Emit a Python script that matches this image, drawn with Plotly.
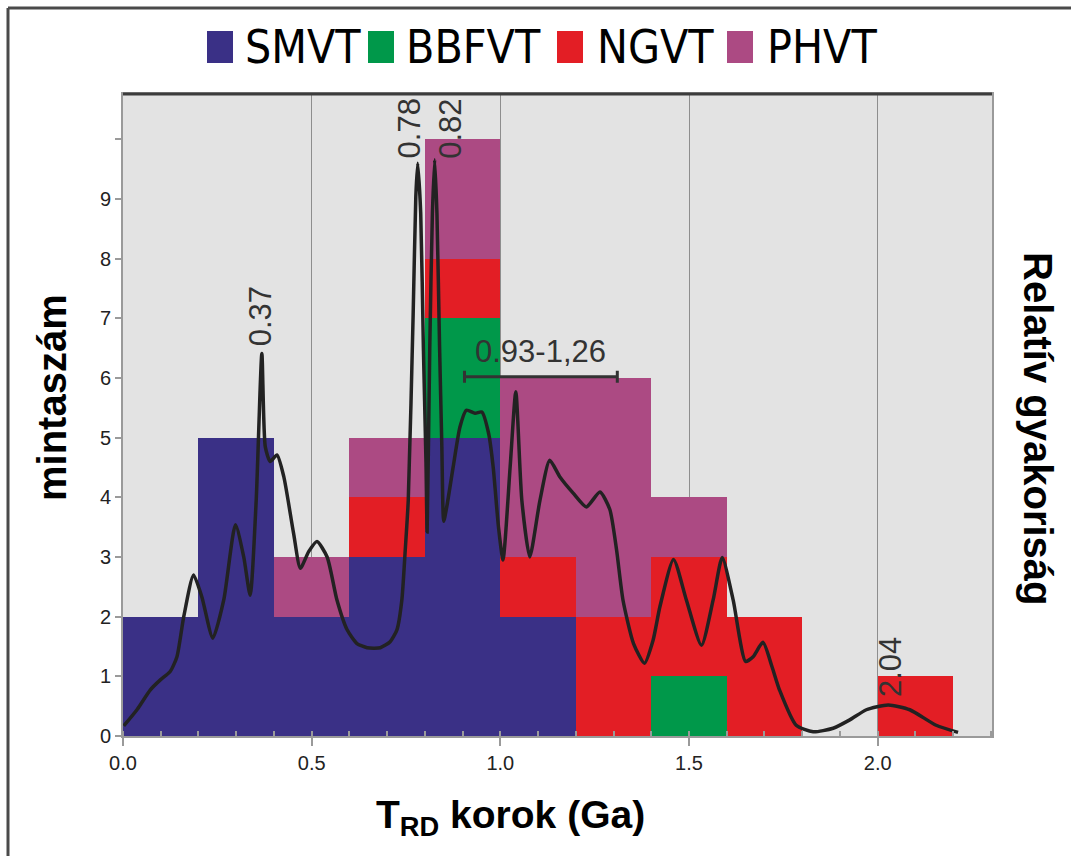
import plotly.graph_objects as go

# ---------------- data ----------------
bin_start = [0.0, 0.2, 0.4, 0.6, 0.8, 1.0, 1.2, 1.4, 1.6, 1.8, 2.0]
bin_width = 0.2
series_names = ["SMVT", "BBFVT", "NGVT", "PHVT"]
smvt = [2, 5, 2, 3, 5, 2, 0, 0, 0, 0, 0]
bbfvt = [0, 0, 0, 0, 2, 0, 0, 1, 0, 0, 0]
ngvt = [0, 0, 0, 1, 1, 1, 2, 2, 2, 0, 1]
phvt = [0, 0, 1, 1, 2, 3, 4, 1, 0, 0, 0]
series_colors = ["#3a3086", "#00984a", "#e31e25", "#ac4a83"]

# density curve (in y-axis units)
kde_x = [0.002, 0.037, 0.072, 0.099, 0.125, 0.143, 0.161, 0.187, 0.209, 0.238,
         0.267, 0.298, 0.320, 0.337, 0.353, 0.368, 0.377, 0.390, 0.408, 0.426,
         0.452, 0.470, 0.492, 0.514, 0.541, 0.567, 0.594, 0.620, 0.647, 0.682,
         0.708, 0.726, 0.739, 0.748, 0.756, 0.769, 0.776, 0.781, 0.789, 0.796,
         0.803, 0.806, 0.813, 0.820, 0.826, 0.832, 0.839, 0.845, 0.850, 0.858,
         0.875, 0.893, 0.910, 0.933, 0.951, 0.969, 0.981, 0.995, 1.007, 1.026,
         1.041, 1.057, 1.078, 1.105, 1.131, 1.158, 1.193, 1.228, 1.264, 1.290,
         1.308, 1.325, 1.353, 1.382, 1.405, 1.423, 1.459, 1.493, 1.533, 1.564,
         1.588, 1.617, 1.650, 1.670, 1.696, 1.720, 1.740, 1.784, 1.829, 1.882,
         1.926, 1.970, 2.028, 2.085, 2.155, 2.213]
kde_y = [0.17, 0.44, 0.77, 0.94, 1.08, 1.33, 2.00, 2.70, 2.33, 1.64,
         2.28, 3.54, 3.00, 2.36, 3.95, 6.41, 4.85, 4.60, 4.71, 4.35,
         3.40, 2.81, 3.09, 3.26, 3.00, 2.28, 1.78, 1.55, 1.48, 1.48,
         1.58, 1.78, 2.28, 3.12, 3.95, 7.08, 9.04, 9.60, 8.76, 6.52,
         4.57, 3.42, 6.52, 8.76, 9.66, 8.76, 6.52, 4.85, 3.60, 3.84,
         4.51, 5.18, 5.46, 5.41, 5.43, 5.07, 4.51, 3.51, 2.95, 4.51,
         5.77, 3.95, 3.00, 3.95, 4.62, 4.34, 4.07, 3.84, 4.09, 3.80,
         3.12, 2.28, 1.55, 1.22, 1.61, 2.17, 2.96, 2.28, 1.52, 2.28,
         2.99, 2.28, 1.25, 1.33, 1.57, 1.16, 0.77, 0.18, 0.07, 0.13,
         0.27, 0.44, 0.52, 0.44, 0.18, 0.06]

peak_labels = ["0.37", "0.78", "0.82", "2.04"]
peak_label_x = [0.365, 0.760, 0.867, 2.036]
peak_label_y = [7.03, 10.18, 10.18, 1.16]

range_label = "0.93-1,26"
range_ends = [0.905, 1.31]
range_level = 6.02

y_tick_vals = [0, 1, 2, 3, 4, 5, 6, 7, 8, 9]
y_tick_text = ["0", "1", "2", "3", "4", "5", "6", "7", "8", "9"]
x_tick_vals = [0.0, 0.5, 1.0, 1.5, 2.0]
x_tick_text = ["0.0", "0.5", "1.0", "1.5", "2.0"]

# ---------------- layout geometry (pixels) ----------------
W, H = 1071, 856
L, R, T, B = 123, 992, 94, 736


def px_x(p):
    return (p - L) / (R - L)


def px_y(p):
    return (B - p) / (B - T)


fig = go.Figure()

for name, vals, col in zip(series_names, [smvt, bbfvt, ngvt, phvt], series_colors):
    fig.add_trace(go.Bar(
        x=bin_start, y=vals, width=bin_width, offset=0, name=name,
        marker=dict(color=col, line=dict(width=0)), showlegend=False,
        hoverinfo="name+y"))

fig.add_trace(go.Scatter(
    x=kde_x, y=kde_y, mode="lines",
    line=dict(color="#222222", width=3.5, shape="spline", smoothing=0.6),
    showlegend=False, hoverinfo="skip"))

# range bar with caps
center = (range_ends[0] + range_ends[1]) / 2
half = (range_ends[1] - range_ends[0]) / 2
fig.add_trace(go.Scatter(
    x=[center], y=[range_level], mode="markers",
    marker=dict(size=1, color="rgba(0,0,0,0)"),
    error_x=dict(type="data", array=[half], thickness=3, width=6, color="#333333"),
    showlegend=False, hoverinfo="skip"))

annotations = []
for txt, ax_, ay_ in zip(peak_labels, peak_label_x, peak_label_y):
    annotations.append(dict(x=ax_, y=ay_, xref="x", yref="y", text=txt, textangle=-90,
                            showarrow=False, xanchor="center", yanchor="middle",
                            font=dict(family="Liberation Sans, Arial", size=31, color="#333333")))
annotations.append(dict(x=center, y=6.44, xref="x", yref="y", text=range_label,
                        showarrow=False, xanchor="center", yanchor="middle",
                        font=dict(family="Liberation Sans, Arial", size=31, color="#333333")))

# axis titles
title_font = dict(family="Liberation Sans, Arial", size=40, color="#000000")
annotations.append(dict(x=px_x(52), y=px_y(398), xref="paper", yref="paper",
                        text="<b>mintaszám</b>", textangle=-90, showarrow=False,
                        xanchor="center", yanchor="middle", font=title_font))
annotations.append(dict(x=px_x(1038), y=px_y(429), xref="paper", yref="paper",
                        text="<b>Relatív gyakoriság</b>", textangle=90, showarrow=False,
                        xanchor="center", yanchor="middle", font=title_font))
annotations.append(dict(x=px_x(510), y=px_y(818), xref="paper", yref="paper",
                        text="<b>T<sub>RD</sub> korok (Ga)</b>", showarrow=False,
                        xanchor="center", yanchor="middle",
                        font=dict(family="Liberation Sans, Arial", size=39, color="#000000")))

# custom legend
leg_sq_x = [207, 368, 557, 727]
leg_txt_x = [243, 404, 595, 765]
leg_y = 47
shapes = []
for name, col, sx, tx in zip(series_names, series_colors, leg_sq_x, leg_txt_x):
    shapes.append(dict(type="rect", xref="paper", yref="paper",
                       x0=px_x(sx), x1=px_x(sx + 26), y0=px_y(leg_y - 16), y1=px_y(leg_y + 16),
                       fillcolor=col, line=dict(width=0)))
    annotations.append(dict(x=px_x(tx), y=px_y(leg_y), xref="paper", yref="paper",
                            text=name, showarrow=False, xanchor="left", yanchor="middle",
                            font=dict(family="Liberation Sans Narrow, DejaVu Sans Condensed, Arial Narrow, sans-serif",
                                      size=46, color="#000000")))

# outer frame (top and left visible)
shapes.append(dict(type="line", xref="paper", yref="paper",
                   x0=px_x(8), x1=px_x(W + 5), y0=px_y(8), y1=px_y(8),
                   line=dict(color="#4a4a4a", width=3)))
shapes.append(dict(type="line", xref="paper", yref="paper",
                   x0=px_x(8), x1=px_x(8), y0=px_y(8), y1=px_y(H + 5),
                   line=dict(color="#4a4a4a", width=3)))
# dark top border of plot area
shapes.append(dict(type="line", xref="paper", yref="paper",
                   x0=0, x1=1, y0=1, y1=1, line=dict(color="#3c3c3c", width=3)))

fig.update_layout(
    width=W, height=H,
    margin=dict(l=L, r=W - R, t=T, b=H - B, pad=0),
    paper_bgcolor="white", plot_bgcolor="#e3e3e3",
    barmode="stack", bargap=0,
    showlegend=False,
    annotations=annotations, shapes=shapes,
    font=dict(family="Liberation Sans, Arial", size=20, color="#222222"),
)
fig.update_xaxes(
    range=[0, 2.303], tickvals=x_tick_vals, ticktext=x_tick_text,
    showgrid=True, gridcolor="#8e8e8e", gridwidth=1, zeroline=False,
    showline=True, linecolor="#9a9a9a", linewidth=2, mirror=True,
    ticks="outside", ticklen=8, tickwidth=2, tickcolor="#9a9a9a",
    tickfont=dict(size=20, color="#222222"),
    minor=dict(dtick=0.1, tick0=0, ticks="inside", ticklen=5, tickcolor="#9a9a9a", showgrid=False),
)
fig.update_yaxes(
    range=[0, 10.76], tickvals=y_tick_vals, ticktext=y_tick_text,
    showgrid=False, zeroline=False,
    showline=True, linecolor="#9a9a9a", linewidth=2, mirror=True,
    ticks="outside", ticklen=6, tickwidth=2, tickcolor="#9a9a9a",
    tickfont=dict(size=20, color="#222222"),
    minor=dict(dtick=1, tick0=0, ticks="outside", ticklen=6, tickwidth=2, tickcolor="#9a9a9a", showgrid=False),
)

fig.write_html("out.html")
